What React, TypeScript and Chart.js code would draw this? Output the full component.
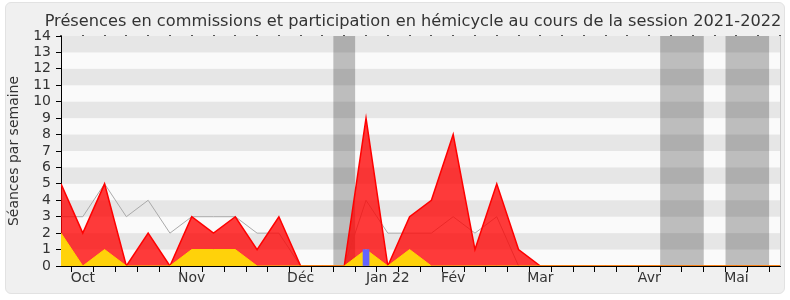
import React, { useEffect, useRef } from "react";
import { Chart, registerables } from "chart.js";

Chart.register(...registerables);

// Weekly values, session 2021-2022 (week index 0 = first week of the session)
const weekIndex: number[] = Array.from({ length: 34 }, (_, i) => i);
const hemicycle: number[] = [5, 2, 5, 0, 2, 0, 3, 2, 3, 1, 3, 0, 0, 0, 9, 0, 3, 4, 8, 1, 5, 1, 0, 0, 0, 0, 0, 0, 0, 0, 0, 0, 0, 0];
const commissions: number[] = [2, 0, 1, 0, 0, 0, 1, 1, 1, 0, 0, 0, 0, 0, 1, 0, 1, 0, 0, 0, 0, 0, 0, 0, 0, 0, 0, 0, 0, 0, 0, 0, 0, 0];
const mediane: number[] = [3, 3, 5, 3, 4, 2, 3, 3, 3, 2, 2, 0, 0, 0, 4, 2, 2, 2, 3, 2, 3, 0, 0, 0, 0, 0, 0, 0, 0, 0, 0, 0, 0, 0];
const questionWeeks: number[] = [14];
const questionValues: number[] = [1];
// Holiday periods (in week units)
const vacancesStart: number[] = [12.5, 27.5, 30.5];
const vacancesEnd: number[] = [13.5, 29.5, 32.5];
// Month tick labels
const monthTickIdx: number[] = [1, 6, 11, 15, 18, 22, 27, 31];
const monthLabels: string[] = ["Oct", "Nov", "Déc", "Jan 22", "Fév", "Mar", "Avr", "Mai"];
const yMax = 14;

const TITLE = "Présences en commissions et participation en hémicycle au cours de la session 2021-2022";
const Y_TITLE = "Séances par semaine";
const FONT = '"DejaVu Sans", Verdana, sans-serif';

const decorPlugin = {
  id: "decor",
  beforeDraw(chart: any) {
    const { ctx, chartArea } = chart;
    const xs = chart.scales.x;
    const ys = chart.scales.y;
    const { left, right, top, bottom } = chartArea;
    ctx.save();
    ctx.fillStyle = "#fafafa";
    ctx.fillRect(left, top, right - left, bottom - top);
    ctx.fillStyle = "#e6e6e6";
    for (let v = 1; v < yMax; v += 2) {
      const y1 = ys.getPixelForValue(v + 1);
      const y0 = ys.getPixelForValue(v);
      ctx.fillRect(left, y1, right - left, y0 - y1);
    }
    ctx.fillStyle = "rgba(0,0,0,0.245)";
    for (let i = 0; i < vacancesStart.length; i++) {
      const x0 = xs.getPixelForValue(vacancesStart[i]);
      const x1 = xs.getPixelForValue(vacancesEnd[i]);
      ctx.fillRect(x0, top, x1 - x0, bottom - top);
    }
    ctx.fillStyle = "#cccccc";
    ctx.fillRect(Math.round(right), top, 1, bottom - top);
    ctx.fillStyle = "#555";
    for (const i of weekIndex) {
      const x = Math.round(xs.getPixelForValue(i));
      ctx.fillRect(x - 1, top - 1, 2, 1);
    }
    ctx.restore();
  },
  afterDraw(chart: any) {
    const { ctx, chartArea } = chart;
    ctx.save();
    ctx.fillStyle = "#333";
    ctx.font = `16.2px ${FONT}`;
    ctx.textAlign = "center";
    ctx.textBaseline = "alphabetic";
    ctx.fillText(TITLE, 413, 26);
    ctx.translate(18, (chartArea.top + chartArea.bottom) / 2);
    ctx.rotate(-Math.PI / 2);
    ctx.font = `14px ${FONT}`;
    ctx.fillText(Y_TITLE, 0, 0);
    ctx.restore();
  },
};

export default function App() {
  const ref = useRef<HTMLCanvasElement | null>(null);
  useEffect(() => {
    if (!ref.current) return;
    const toXY = (arr: number[]) => arr.map((v, i) => ({ x: weekIndex[i], y: v }));
    const chart = new Chart(ref.current, {
      type: "line",
      data: {
        datasets: [
          {
            type: "bar",
            label: "Questions orales",
            data: questionWeeks.map((w, i) => ({ x: w, y: questionValues[i] })),
            backgroundColor: "#6464ff",
            borderWidth: 0,
            barThickness: 6,
            order: 0,
          } as any,
          {
            label: "Présences en commission",
            data: toXY(commissions),
            borderColor: "#ffd700",
            backgroundColor: "#ffd20a",
            borderWidth: 1,
            fill: "origin",
            pointRadius: 0,
            tension: 0,
            order: 1,
          },
          {
            label: "Participation en hémicycle",
            data: toXY(hemicycle),
            borderColor: "#ff0000",
            backgroundColor: "rgba(255,0,0,0.77)",
            borderWidth: 1.5,
            fill: "origin",
            pointRadius: 0,
            tension: 0,
            order: 2,
          },
          {
            label: "Médiane",
            data: toXY(mediane),
            borderColor: "#aaaaaa",
            borderWidth: 1,
            fill: false,
            pointRadius: 0,
            tension: 0,
            order: 3,
          },
        ],
      },
      options: {
        responsive: false,
        animation: false,
        devicePixelRatio: 1,
        layout: { padding: { top: 36, right: 10, left: 0, bottom: 0 } },
        plugins: { legend: { display: false }, tooltip: { enabled: false }, title: { display: false } },
        scales: {
          x: {
            type: "linear",
            min: 0,
            max: weekIndex.length - 1,
            offset: false,
            afterFit: (s: any) => { s.height = 34; },
            border: { display: true, color: "#000", width: 1 },
            grid: { drawOnChartArea: false, drawTicks: true, tickLength: 6, color: "#000" },
            ticks: {
              stepSize: 1,
              autoSkip: false,
              maxRotation: 0,
              padding: -2,
              color: "#333",
              font: { family: FONT, size: 14 },
              callback: (v: any) => {
                const k = monthTickIdx.indexOf(Number(v));
                return k >= 0 ? monthLabels[k] : "";
              },
            },
          },
          y: {
            min: 0,
            max: yMax,
            afterFit: (s: any) => { s.width = 61; },
            border: { display: true, color: "#000", width: 1 },
            grid: { drawOnChartArea: false, drawTicks: true, tickLength: 5, color: "#000" },
            ticks: {
              stepSize: 1,
              autoSkip: false,
              padding: 5,
              color: "#333",
              font: { family: FONT, size: 14 },
            },
          },
        },
      },
      plugins: [decorPlugin],
    } as any);
    return () => chart.destroy();
  }, []);

  return (
    <div style={{ position: "fixed", left: 0, top: 0, width: 790, height: 300, background: "#fff" }}>
      <div
        style={{
          position: "absolute",
          left: 5,
          top: 2,
          width: 778,
          height: 290,
          border: "1px solid #e2e2e2",
          borderRadius: 6,
          background: "#f0f0f0",
        }}
      />
      <canvas ref={ref} width={790} height={300} style={{ position: "absolute", left: 0, top: 0, width: 790, height: 300 }} />
    </div>
  );
}
